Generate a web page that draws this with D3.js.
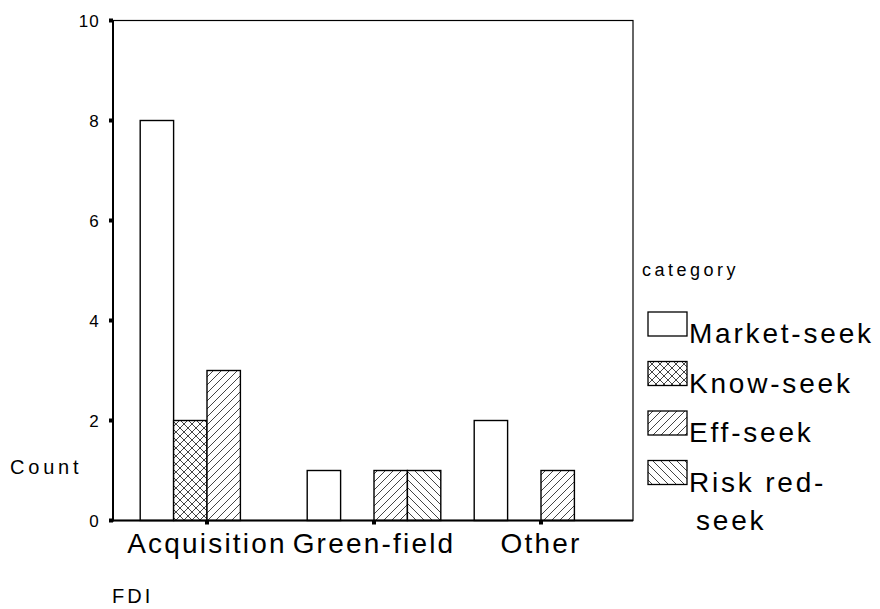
<!DOCTYPE html>
<html>
<head>
<meta charset="utf-8">
<script src="https://cdn.jsdelivr.net/npm/d3@7"></script>
<style>
  html, body { margin: 0; padding: 0; background: #fff; }
  svg { display: block; }
  text { font-family: "Liberation Sans", Arial, sans-serif; fill: #000; }
</style>
</head>
<body>
<svg id="chart" width="880" height="609"></svg>
<script>
// ---- data ----
const categories = ["Acquisition", "Green-field", "Other"];
const series = ["Market-seek", "Know-seek", "Eff-seek", "Risk red-seek"];
const marketSeek = [8, 1, 2];
const knowSeek = [2, 0, 0];
const effSeek = [3, 1, 1];
const riskRedSeek = [0, 1, 0];
const seriesValues = [marketSeek, knowSeek, effSeek, riskRedSeek];
const yTicks = [0, 2, 4, 6, 8, 10];
const legendLines = [["Market-seek"], ["Know-seek"], ["Eff-seek"], ["Risk red-", "seek"]];
const fills = ["#ffffff", "url(#pCross)", "url(#pFwd)", "url(#pBack)"];

// ---- layout ----
const svg = d3.select("#chart");
const plot = { left: 113, right: 633, top: 20.5, bottom: 520.5 };

const y = d3.scaleLinear().domain([0, 10]).range([plot.bottom, plot.top]);
const x = d3.scaleBand().domain(categories).range([123.5, 624.5])
  .paddingInner(0.2).paddingOuter(0.1);
const xs = d3.scaleBand().domain(series).range([0, x.bandwidth()]);

// ---- patterns ----
const defs = svg.append("defs");
function pat(id, paths, color, w) {
  const p = defs.append("pattern").attr("id", id)
    .attr("patternUnits", "userSpaceOnUse").attr("width", 8).attr("height", 8);
  p.append("rect").attr("width", 8).attr("height", 8).attr("fill", "#fff");
  paths.forEach(d => p.append("path").attr("d", d)
    .attr("stroke", color).attr("stroke-width", w).attr("fill", "none"));
}
pat("pFwd", ["M-2,2 L2,-2", "M0,8 L8,0", "M6,10 L10,6"], "#444", 1);
pat("pBack", ["M-2,6 L2,10", "M0,0 L8,8", "M6,-2 L10,2"], "#444", 1);
pat("pCross", ["M-2,2 L2,-2", "M0,8 L8,0", "M6,10 L10,6",
               "M-2,6 L2,10", "M0,0 L8,8", "M6,-2 L10,2"], "#222", 0.85);

// ---- frame ----
svg.append("rect").attr("x", plot.left).attr("y", plot.top)
  .attr("width", plot.right - plot.left).attr("height", plot.bottom - plot.top)
  .attr("fill", "none").attr("stroke", "#000").attr("stroke-width", 1.2);

// ---- bars ----
const barData = [];
categories.forEach((c, ci) => {
  series.forEach((s, si) => {
    const v = seriesValues[si][ci];
    if (v > 0) barData.push({ c, s, si, v });
  });
});
svg.append("g").selectAll("rect").data(barData).join("rect")
  .attr("x", d => x(d.c) + xs(d.s))
  .attr("y", d => y(d.v))
  .attr("width", xs.bandwidth())
  .attr("height", d => y(0) - y(d.v))
  .attr("fill", d => fills[d.si])
  .attr("stroke", "#000").attr("stroke-width", 1.4);

// ---- axes lines ----
svg.append("line").attr("x1", plot.left).attr("x2", plot.left)
  .attr("y1", plot.top).attr("y2", plot.bottom + 1)
  .attr("stroke", "#000").attr("stroke-width", 2);
svg.append("line").attr("x1", plot.left - 3).attr("x2", plot.right)
  .attr("y1", plot.bottom).attr("y2", plot.bottom)
  .attr("stroke", "#000").attr("stroke-width", 2);

// y ticks
const yAxis = svg.append("g");
yAxis.selectAll("rect").data(yTicks).join("rect")
  .attr("x", plot.left - 4).attr("y", d => y(d) - 2)
  .attr("width", 4).attr("height", 4).attr("fill", "#000");
yAxis.selectAll("text").data(yTicks).join("text")
  .attr("x", 100).attr("y", d => y(d) + 6)
  .attr("text-anchor", "end").attr("font-size", 17).attr("letter-spacing", 1.2)
  .text(d => d);

// x ticks
const xAxis = svg.append("g");
xAxis.selectAll("rect").data(categories).join("rect")
  .attr("x", d => x(d) + x.bandwidth() / 2 - 2).attr("y", plot.bottom)
  .attr("width", 4).attr("height", 4).attr("fill", "#000");
xAxis.selectAll("text").data(categories).join("text")
  .attr("x", d => x(d) + x.bandwidth() / 2)
  .attr("y", 553).attr("text-anchor", "middle")
  .attr("font-size", 28).attr("letter-spacing", 2.2)
  .text(d => d);

// axis titles
svg.append("text").attr("x", 10).attr("y", 474)
  .attr("font-size", 20).attr("letter-spacing", 3.8).text("Count");
svg.append("text").attr("x", 112).attr("y", 603)
  .attr("font-size", 20).attr("letter-spacing", 3).text("FDI");

// ---- legend ----
svg.append("text").attr("x", 642).attr("y", 276)
  .attr("font-size", 18).attr("letter-spacing", 3.5).text("category");
const lg = svg.append("g");
series.forEach((s, i) => {
  const top = 312 + i * 49.5;
  lg.append("rect").attr("x", 648).attr("y", top)
    .attr("width", 39).attr("height", 24)
    .attr("fill", fills[i]).attr("stroke", "#000").attr("stroke-width", 1.3);
  legendLines[i].forEach((t, li) => {
    lg.append("text").attr("x", li === 0 ? 689 : 696)
      .attr("y", top + 31 + li * 38)
      .attr("font-size", 28).attr("letter-spacing", 2.8)
      .text(t);
  });
});
</script>
</body>
</html>
